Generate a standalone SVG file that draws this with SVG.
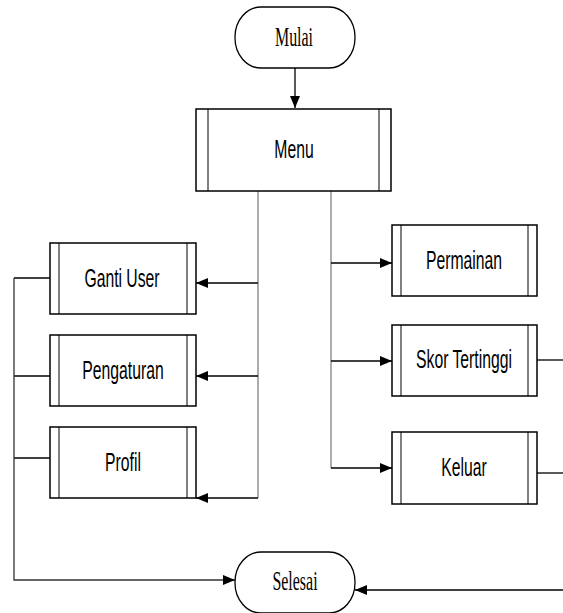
<svg xmlns="http://www.w3.org/2000/svg" width="563" height="613" viewBox="0 0 563 613">
<style>
.bg{fill:#fff}
.box{fill:#fff;stroke:#000;stroke-width:1.5}
.in{stroke:#000;stroke-width:1}
.term{fill:#fff;stroke:#000;stroke-width:1.3}
.sans{font-family:"Liberation Sans",Arial,sans-serif;font-size:25px;fill:#000;text-anchor:middle}
.serif{font-family:"Liberation Serif","Times New Roman",serif;font-size:28px;fill:#000;text-anchor:middle}
.k{stroke:#000;stroke-width:1.3;fill:none}
.g{stroke:#808080;stroke-width:1.3;fill:none}
.ka{stroke:#000;stroke-width:1.3;fill:none;marker-end:url(#ah)}
</style>
<defs>
<marker id="ah" viewBox="0 0 12 10" refX="12" refY="5" markerWidth="12" markerHeight="10" markerUnits="userSpaceOnUse" orient="auto">
<path d="M0,0 L12,5 L0,10 Z" fill="#000"/>
</marker>
</defs>
<rect class="bg" x="0" y="0" width="563" height="613"/>
<g id="connectors">
<line class="ka" x1="295" y1="68" x2="295" y2="108"/>
<line class="g" x1="258" y1="191" x2="258" y2="498"/>
<line class="g" x1="331" y1="191" x2="331" y2="468"/>
<line class="ka" x1="258" y1="283" x2="196" y2="283"/>
<line class="ka" x1="258" y1="376" x2="196" y2="376"/>
<line class="ka" x1="258" y1="498" x2="196" y2="498"/>
<line class="ka" x1="331" y1="263" x2="392" y2="263"/>
<line class="ka" x1="331" y1="361" x2="392" y2="361"/>
<line class="ka" x1="331" y1="468" x2="392" y2="468"/>
<line class="k" x1="50" y1="278" x2="14" y2="278"/>
<line class="k" x1="50" y1="376" x2="14" y2="376"/>
<line class="k" x1="50" y1="458" x2="14" y2="458"/>
<polyline class="ka" points="14,278 14,580 235,580" style="stroke:#333"/>
<line class="k" x1="537" y1="360" x2="563" y2="360"/>
<line class="k" x1="537" y1="473" x2="563" y2="473"/>
<line class="ka" x1="563" y1="590" x2="355" y2="590"/>
</g>
<g id="mulai">
<rect class="term" x="235" y="7" width="120" height="61" rx="26" ry="30"/>
<text class="serif" transform="translate(294,46) scale(0.57,1)">Mulai</text>
</g>
<g id="menu">
<rect class="box" x="196" y="109" width="195" height="82"/>
<line class="in" x1="208" y1="109" x2="208" y2="191"/>
<line class="in" x1="379" y1="109" x2="379" y2="191"/>
<text class="sans" transform="translate(294,158) scale(0.63,1)">Menu</text>
</g>
<g id="ganti-user">
<rect class="box" x="50" y="243" width="146" height="71"/>
<line class="in" x1="59" y1="243" x2="59" y2="314"/>
<line class="in" x1="187" y1="243" x2="187" y2="314"/>
<text class="sans" transform="translate(122,287) scale(0.63,1)">Ganti User</text>
</g>
<g id="pengaturan">
<rect class="box" x="50" y="335" width="146" height="71"/>
<line class="in" x1="59" y1="335" x2="59" y2="406"/>
<line class="in" x1="187" y1="335" x2="187" y2="406"/>
<text class="sans" transform="translate(123,379) scale(0.63,1)">Pengaturan</text>
</g>
<g id="profil">
<rect class="box" x="50" y="427" width="146" height="71"/>
<line class="in" x1="59" y1="427" x2="59" y2="498"/>
<line class="in" x1="187" y1="427" x2="187" y2="498"/>
<text class="sans" transform="translate(123,471) scale(0.63,1)">Profil</text>
</g>
<g id="permainan">
<rect class="box" x="392" y="225" width="145" height="71"/>
<line class="in" x1="401" y1="225" x2="401" y2="296"/>
<line class="in" x1="528" y1="225" x2="528" y2="296"/>
<text class="sans" transform="translate(464,269) scale(0.63,1)">Permainan</text>
</g>
<g id="skor-tertinggi">
<rect class="box" x="392" y="325" width="145" height="71"/>
<line class="in" x1="401" y1="325" x2="401" y2="396"/>
<line class="in" x1="528" y1="325" x2="528" y2="396"/>
<text class="sans" transform="translate(464,368) scale(0.63,1)">Skor Tertinggi</text>
</g>
<g id="keluar">
<rect class="box" x="392" y="432" width="145" height="72"/>
<line class="in" x1="401" y1="432" x2="401" y2="504"/>
<line class="in" x1="528" y1="432" x2="528" y2="504"/>
<text class="sans" transform="translate(464,476) scale(0.63,1)">Keluar</text>
</g>
<g id="selesai">
<rect class="term" x="235" y="552" width="120" height="61" rx="26" ry="30"/>
<text class="serif" transform="translate(295,590) scale(0.57,1)">Selesai</text>
</g>
</svg>
